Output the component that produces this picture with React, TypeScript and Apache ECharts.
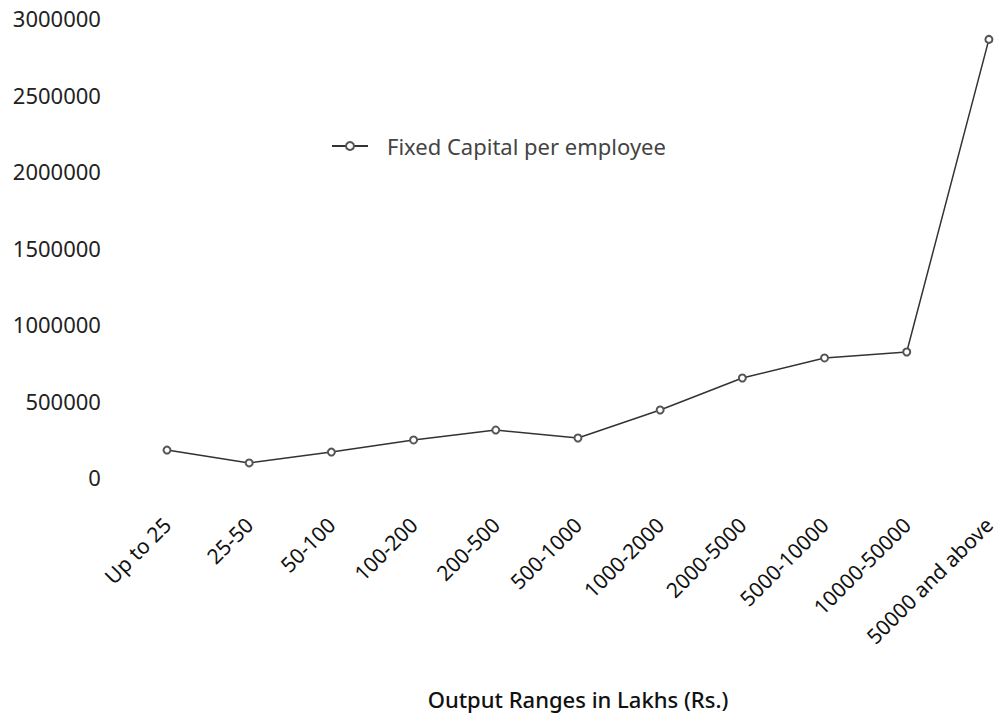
import React, { useEffect, useRef } from "react";
import * as echarts from "echarts";

const categories = [
  "Up to 25",
  "25-50",
  "50-100",
  "100-200",
  "200-500",
  "500-1000",
  "1000-2000",
  "2000-5000",
  "5000-10000",
  "10000-50000",
  "50000 and above",
];
const fixedCapitalPerEmployee = [
  176000, 92000, 163000, 242000, 307000, 255000, 438000, 647000, 778000, 817000,
  2860000,
];
const seriesName = "Fixed Capital per employee";
const xAxisTitle = "Output Ranges in Lakhs (Rs.)";

export default function App() {
  const ref = useRef<HTMLDivElement>(null);
  useEffect(() => {
    if (!ref.current) return;
    const chart = echarts.init(ref.current, undefined, { renderer: "svg" });
    const font = "'Noto Sans', 'Open Sans', sans-serif";
    chart.setOption({
      animation: false,
      backgroundColor: "#ffffff",
      grid: { left: 125.9, right: 0, top: 18, bottom: 240 },
      legend: {
        left: 326,
        top: 130,
        itemWidth: 36,
        itemHeight: 10,
        textStyle: {
          fontFamily: font,
          fontSize: 22,
          color: "#444",
          padding: [0, 0, 0, 14],
        },
        data: [{ name: seriesName }],
      },
      xAxis: {
        type: "category",
        data: categories,
        boundaryGap: true,
        name: xAxisTitle,
        nameLocation: "middle",
        nameGap: 211,
        nameTextStyle: {
          fontFamily: font,
          fontSize: 22,
          color: "#111",
          fontWeight: 500,
        },
        axisLine: { show: false },
        axisTick: { show: false },
        axisLabel: {
          rotate: 45,
          margin: 44,
          interval: 0,
          fontFamily: font,
          fontSize: 21,
          color: "#111",
        },
      },
      yAxis: {
        type: "value",
        min: 0,
        max: 3000000,
        interval: 500000,
        axisLine: { show: false },
        axisTick: { show: false },
        splitLine: { show: false },
        axisLabel: {
          margin: 25,
          fontFamily: font,
          fontSize: 22,
          color: "#222",
          formatter: (v: number) => String(v),
        },
      },
      series: [
        {
          name: seriesName,
          type: "line",
          data: fixedCapitalPerEmployee,
          symbol: "emptyCircle",
          symbolSize: 7,
          lineStyle: { color: "#333", width: 1.5 },
          itemStyle: { color: "#555", borderWidth: 1.2 },
        },
      ],
    });
    return () => chart.dispose();
  }, []);
  return (
    <div
      ref={ref}
      style={{
        position: "fixed",
        left: 0,
        top: 0,
        width: 1030,
        height: 717,
        background: "#fff",
      }}
    />
  );
}
